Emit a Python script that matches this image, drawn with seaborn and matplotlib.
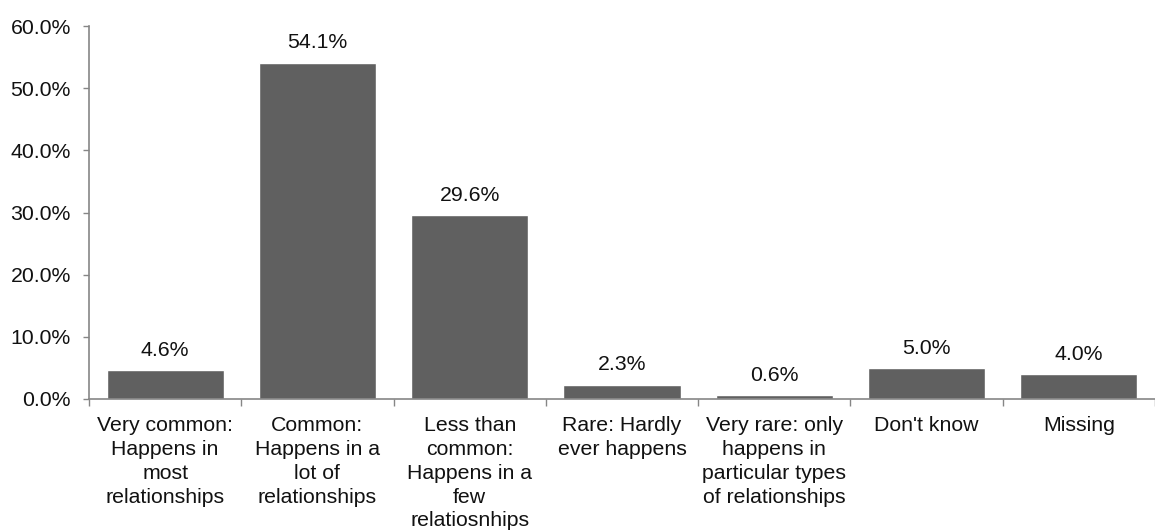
import matplotlib
matplotlib.use("Agg")
import matplotlib.pyplot as plt
import seaborn as sns
import pandas as pd
import numpy as np

categories = [
    "Very common:\nHappens in\nmost\nrelationships",
    "Common:\nHappens in a\nlot of\nrelationships",
    "Less than\ncommon:\nHappens in a\nfew\nrelatiosnhips",
    "Rare: Hardly\never happens",
    "Very rare: only\nhappens in\nparticular types\nof relationships",
    "Don't know",
    "Missing",
]
values = [4.6, 54.1, 29.6, 2.3, 0.6, 5.0, 4.0]
y_ticks = [0, 10, 20, 30, 40, 50, 60]

sns.set_style("white")
plt.rcParams["font.family"] = ["Liberation Sans", "DejaVu Sans"]

df = pd.DataFrame({"category": categories, "value": values})

fig = plt.figure(figsize=(11.55, 5.32), dpi=100)
ax = fig.add_axes([89 / 1155, 1 - 399 / 532, 1 - 89 / 1155, (399 - 26) / 532])

sns.barplot(data=df, x="category", y="value", color="#606060", saturation=1,
            width=0.77, ax=ax)

axis_grey = "#868686"
text_col = "#111111"
fs = 15.3
ax.set_ylim(0, 60)
ax.set_xlim(-0.5, -0.5 + (1155 - 89) / 154)
ax.set_yticks(y_ticks)
ax.set_yticklabels([f"{t:.1f}%" for t in y_ticks], fontsize=fs, color=text_col)
ax.tick_params(axis="y", left=True, length=4, width=1, color=axis_grey, pad=9)

# Category labels centred on the bars, tick marks at the category boundaries
ax.set_xticks(range(len(categories)))
ax.set_xticklabels(categories, fontsize=fs, color=text_col, linespacing=1.33)
ax.set_xticks(np.arange(-0.5, len(categories), 1.0), minor=True)
ax.tick_params(axis="x", which="major", bottom=True, length=0, pad=12)
ax.tick_params(axis="x", which="minor", bottom=True, length=5, width=1,
               color=axis_grey)

ax.set_xlabel("")
ax.set_ylabel("")
for side in ["top", "right"]:
    ax.spines[side].set_visible(False)
for side in ["left", "bottom"]:
    ax.spines[side].set_color(axis_grey)
    ax.spines[side].set_linewidth(1.2)

ax.bar_label(ax.containers[0], labels=[f"{v:.1f}%" for v in values],
             padding=7.5, fontsize=fs, color=text_col)

fig.savefig("out.png", dpi=100)
